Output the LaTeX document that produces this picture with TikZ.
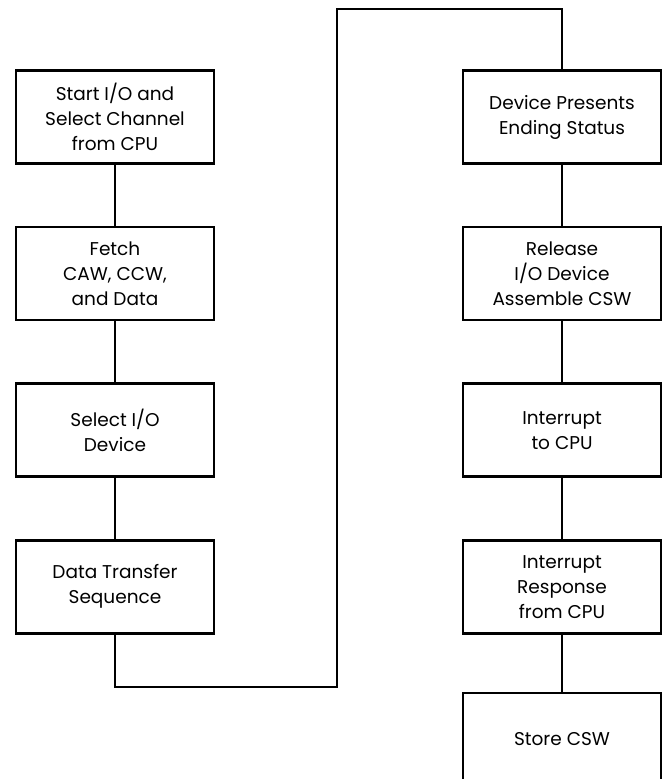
\documentclass[tikz,border=0pt]{standalone}
\usepackage{fontspec}
\setmainfont{Poppins}
\usetikzlibrary{positioning}

\tikzset{
  stepbox/.style={draw,line width=2.6pt,minimum width=198pt,minimum height=93pt,
    align=center,inner sep=4pt,font=\fontsize{18.5}{25}\selectfont},
  link/.style={line width=1.7pt}
}

\begin{document}
\begin{tikzpicture}[x=1pt,y=1pt,node distance=61pt]
  \useasboundingbox (0,0) rectangle (666,779);
  % channel side
  \node[stepbox] (start) at (115,662) {Start I/O and\\Select Channel\\from CPU};
  \node[stepbox,below=of start] (fetch) {Fetch\\CAW, CCW,\\and Data};
  \node[stepbox,below=of fetch] (seldev) {Select I/O\\Device};
  \node[stepbox,below=of seldev] (xfer) {Data Transfer\\Sequence};
  % ending side
  \node[stepbox] (ending) at (562,662) {Device Presents\\Ending Status};
  \node[stepbox,below=of ending] (release) {Release\\I/O Device\\Assemble CSW};
  \node[stepbox,below=of release] (intr) {Interrupt\\to CPU};
  \node[stepbox,below=of intr] (resp) {Interrupt\\Response\\from CPU};
  \node[stepbox,below=57pt of resp] (store) {Store CSW};
  \coordinate (low) at (337,92);
  \coordinate (high) at (337,770);
  \draw[link] (start) -- (fetch);
  \draw[link] (fetch) -- (seldev);
  \draw[link] (seldev) -- (xfer);
  \draw[link] (xfer.south) |- (low) -- (high) -| (ending.north);
  \draw[link] (ending) -- (release);
  \draw[link] (release) -- (intr);
  \draw[link] (intr) -- (resp);
  \draw[link] (resp) -- (store);
\end{tikzpicture}
\end{document}
